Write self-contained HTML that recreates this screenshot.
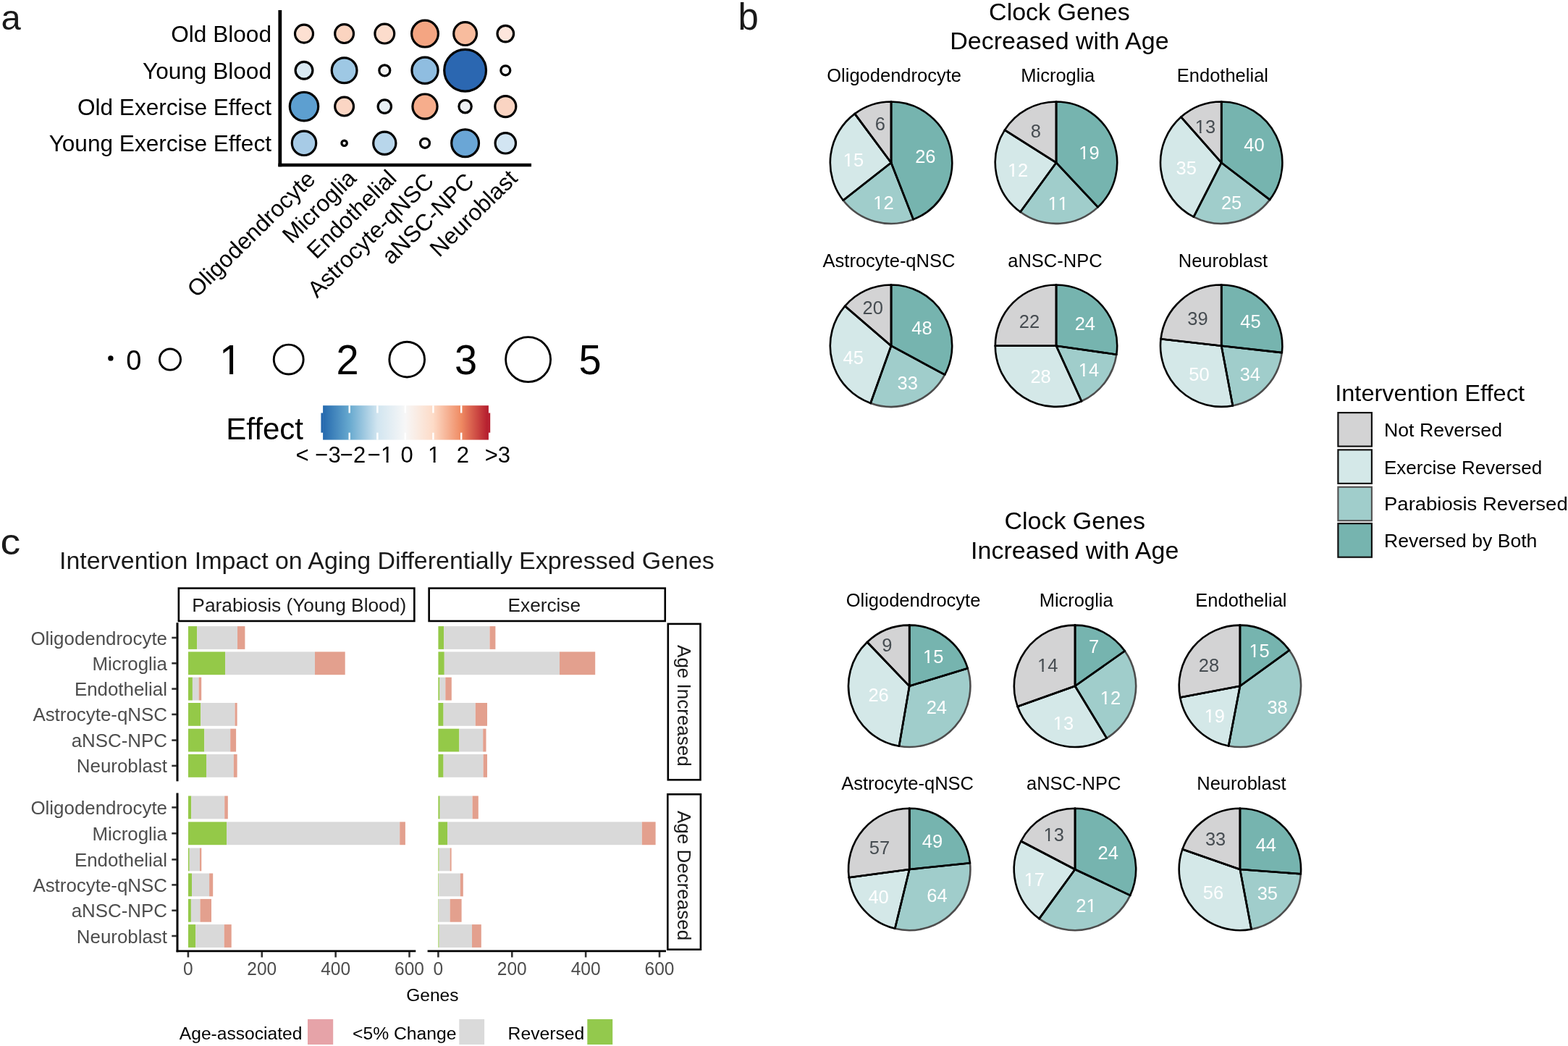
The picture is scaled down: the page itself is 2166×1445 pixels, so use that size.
<!DOCTYPE html>
<html><head><meta charset="utf-8"><title>Figure</title>
<style>
html,body{margin:0;padding:0;background:#fff;}
svg{display:block;}
text{font-family:'Liberation Sans', Arial, Helvetica, sans-serif;}
</style></head>
<body>
<svg width="2166" height="1445" viewBox="0 0 2166 1445">
<rect width="2166" height="1445" fill="#fff"/>
<text x="1.40" y="40.60" font-size="49" fill="#1a1a1a" text-anchor="start" >a</text>
<text x="375.00" y="58.40" font-size="31.6" fill="#000" text-anchor="end" >Old Blood</text>
<text x="375.00" y="109.10" font-size="31.6" fill="#000" text-anchor="end" >Young Blood</text>
<text x="375.00" y="158.90" font-size="31.6" fill="#000" text-anchor="end" >Old Exercise Effect</text>
<text x="375.00" y="209.00" font-size="31.6" fill="#000" text-anchor="end" >Young Exercise Effect</text>
<circle cx="420" cy="46.6" r="12.50" fill="#fde0d2" stroke="#000" stroke-width="3.2"/>
<circle cx="475.6" cy="46.6" r="12.90" fill="#fbd4c0" stroke="#000" stroke-width="3.2"/>
<circle cx="531.3" cy="46.6" r="13.40" fill="#fcdccc" stroke="#000" stroke-width="3.2"/>
<circle cx="587" cy="46.6" r="18.40" fill="#f4a582" stroke="#000" stroke-width="3.2"/>
<circle cx="642.6" cy="46.6" r="15.90" fill="#f8bc9e" stroke="#000" stroke-width="3.2"/>
<circle cx="698.3" cy="46.6" r="11.30" fill="#fde6dc" stroke="#000" stroke-width="3.2"/>
<circle cx="420" cy="97.3" r="11.90" fill="#d9e9f3" stroke="#000" stroke-width="3.2"/>
<circle cx="475.6" cy="97.3" r="17.40" fill="#9ec8e4" stroke="#000" stroke-width="3.2"/>
<circle cx="531.3" cy="97.3" r="7.50" fill="#f3f3f3" stroke="#000" stroke-width="3.2"/>
<circle cx="587" cy="97.3" r="18.10" fill="#8fbde0" stroke="#000" stroke-width="3.2"/>
<circle cx="642.6" cy="97.3" r="28.90" fill="#2b67b1" stroke="#000" stroke-width="3.2"/>
<circle cx="698.3" cy="97.3" r="6.50" fill="#f6f6f6" stroke="#000" stroke-width="3.2"/>
<circle cx="420" cy="147.1" r="19.70" fill="#5d9fd0" stroke="#000" stroke-width="3.2"/>
<circle cx="475.6" cy="147.1" r="12.90" fill="#fbd6c4" stroke="#000" stroke-width="3.2"/>
<circle cx="531.3" cy="147.1" r="9.20" fill="#e8f0f5" stroke="#000" stroke-width="3.2"/>
<circle cx="587" cy="147.1" r="17.10" fill="#f6ad8c" stroke="#000" stroke-width="3.2"/>
<circle cx="642.6" cy="147.1" r="8.70" fill="#eef1f5" stroke="#000" stroke-width="3.2"/>
<circle cx="698.3" cy="147.1" r="14.50" fill="#fad4c2" stroke="#000" stroke-width="3.2"/>
<circle cx="420" cy="197.8" r="16.70" fill="#a7cbe6" stroke="#000" stroke-width="3.2"/>
<circle cx="475.6" cy="197.8" r="3.70" fill="#fafafa" stroke="#000" stroke-width="3.2"/>
<circle cx="531.3" cy="197.8" r="15.60" fill="#b8d6eb" stroke="#000" stroke-width="3.2"/>
<circle cx="587" cy="197.8" r="6.50" fill="#f8f8f8" stroke="#000" stroke-width="3.2"/>
<circle cx="642.6" cy="197.8" r="18.90" fill="#6aa6d6" stroke="#000" stroke-width="3.2"/>
<circle cx="698.3" cy="197.8" r="14.20" fill="#d2e5f2" stroke="#000" stroke-width="3.2"/>
<line x1="386.8" y1="14" x2="386.8" y2="230.3" stroke="#000" stroke-width="4.8"/>
<line x1="384.4" y1="228" x2="734" y2="228" stroke="#000" stroke-width="4.6"/>
<text transform="translate(422.00,236) rotate(-44.5)" x="1.5" y="20.3" font-size="31.9" fill="#000" text-anchor="end">Oligodendrocyte</text>
<text transform="translate(477.60,236) rotate(-44.5)" x="3" y="20.3" font-size="31.9" fill="#000" text-anchor="end">Microglia</text>
<text transform="translate(533.30,236) rotate(-44.5)" x="3" y="20.3" font-size="31.9" fill="#000" text-anchor="end">Endothelial</text>
<text transform="translate(589.00,236) rotate(-44.5)" x="-3" y="20.3" font-size="31.9" fill="#000" text-anchor="end">Astrocyte-qNSC</text>
<text transform="translate(644.60,236) rotate(-44.5)" x="-3" y="20.3" font-size="31.9" fill="#000" text-anchor="end">aNSC-NPC</text>
<text transform="translate(700.30,236) rotate(-44.5)" x="3" y="20.3" font-size="31.9" fill="#000" text-anchor="end">Neuroblast</text>
<circle cx="152.9" cy="494.9" r="3.7" fill="#000"/>
<text transform="translate(184.70,511.00) scale(1,1.04)" x="0" y="0" font-size="38" fill="#000" text-anchor="middle" style="font-kerning:none" >0</text>
<circle cx="235" cy="496.6" r="14.55" fill="none" stroke="#000" stroke-width="2.9"/>
<circle cx="398.7" cy="496.6" r="20.45" fill="none" stroke="#000" stroke-width="2.9"/>
<circle cx="562.2" cy="496.6" r="24.35" fill="none" stroke="#000" stroke-width="2.9"/>
<circle cx="729.6" cy="496.6" r="31.00" fill="none" stroke="#000" stroke-width="2.9"/>
<defs><clipPath id="nf1" clipPathUnits="userSpaceOnUse"><rect x="299.03" y="443.80" width="39.15" height="67.45"/><rect x="317.06" y="511.25" width="5.04" height="28.00"/></clipPath></defs>
<g clip-path="url(#nf1)"><text transform="translate(318.60,516.60) scale(1,1.04)" x="0" y="0" font-size="56" fill="#000" text-anchor="middle" style="font-kerning:none" >1</text></g>
<text transform="translate(480.00,516.60) scale(1,1.04)" x="0" y="0" font-size="56" fill="#000" text-anchor="middle" style="font-kerning:none" >2</text>
<text transform="translate(643.50,516.60) scale(1,1.04)" x="0" y="0" font-size="56" fill="#000" text-anchor="middle" style="font-kerning:none" >3</text>
<text transform="translate(815.00,516.60) scale(1,1.04)" x="0" y="0" font-size="56" fill="#000" text-anchor="middle" style="font-kerning:none" >5</text>
<text x="312.30" y="607.40" font-size="42" fill="#000" text-anchor="start" >Effect</text>
<defs><linearGradient id="rdbu" gradientUnits="userSpaceOnUse" x1="444.1" x2="675.7" y1="0" y2="0"><stop offset="0" stop-color="#2166ac"/><stop offset="0.1667" stop-color="#67a9cf"/><stop offset="0.3333" stop-color="#d1e5f0"/><stop offset="0.5" stop-color="#f7f7f7"/><stop offset="0.6667" stop-color="#fddbc7"/><stop offset="0.8333" stop-color="#ef8a62"/><stop offset="1" stop-color="#b2182b"/></linearGradient></defs>
<rect x="446.1" y="560.2" width="228.8" height="47.4" fill="url(#rdbu)"/>
<rect x="443.4" y="570.5" width="3" height="27.2" fill="#2467ad"/>
<rect x="674.6" y="570.5" width="2.6" height="27.2" fill="#b41c2c"/>
<line x1="482.7" y1="560.2" x2="482.7" y2="570.5" stroke="#fff" stroke-width="2.4"/>
<line x1="482.7" y1="597.7" x2="482.7" y2="607.6" stroke="#fff" stroke-width="2.4"/>
<line x1="521.4" y1="560.2" x2="521.4" y2="570.5" stroke="#fff" stroke-width="2.4"/>
<line x1="521.4" y1="597.7" x2="521.4" y2="607.6" stroke="#fff" stroke-width="2.4"/>
<line x1="559.8" y1="560.2" x2="559.8" y2="570.5" stroke="#fff" stroke-width="2.4"/>
<line x1="559.8" y1="597.7" x2="559.8" y2="607.6" stroke="#fff" stroke-width="2.4"/>
<line x1="598.4" y1="560.2" x2="598.4" y2="570.5" stroke="#fff" stroke-width="2.4"/>
<line x1="598.4" y1="597.7" x2="598.4" y2="607.6" stroke="#fff" stroke-width="2.4"/>
<line x1="637.2" y1="560.2" x2="637.2" y2="570.5" stroke="#fff" stroke-width="2.4"/>
<line x1="637.2" y1="597.7" x2="637.2" y2="607.6" stroke="#fff" stroke-width="2.4"/>
<text transform="translate(439.60,639.20) scale(1,1.04)" x="0" y="0" font-size="31" fill="#000" text-anchor="middle" style="font-kerning:none" >&lt; −3</text>
<text transform="translate(487.50,639.20) scale(1,1.04)" x="0" y="0" font-size="31" fill="#000" text-anchor="middle" style="font-kerning:none" >−2</text>
<defs><clipPath id="nf2" clipPathUnits="userSpaceOnUse"><rect x="503.83" y="598.90" width="43.35" height="36.89"/><rect x="507.83" y="635.79" width="18.10" height="15.50"/><rect x="533.68" y="635.79" width="2.84" height="15.50"/></clipPath></defs>
<g clip-path="url(#nf2)"><text transform="translate(525.50,639.20) scale(1,1.04)" x="0" y="0" font-size="31" fill="#000" text-anchor="middle" style="font-kerning:none" >−1</text></g>
<text transform="translate(562.20,639.20) scale(1,1.04)" x="0" y="0" font-size="31" fill="#000" text-anchor="middle" style="font-kerning:none" >0</text>
<defs><clipPath id="nf3" clipPathUnits="userSpaceOnUse"><rect x="586.98" y="598.90" width="25.24" height="36.89"/><rect x="598.73" y="635.79" width="2.84" height="15.50"/></clipPath></defs>
<g clip-path="url(#nf3)"><text transform="translate(599.60,639.20) scale(1,1.04)" x="0" y="0" font-size="31" fill="#000" text-anchor="middle" style="font-kerning:none" >1</text></g>
<text transform="translate(639.40,639.20) scale(1,1.04)" x="0" y="0" font-size="31" fill="#000" text-anchor="middle" style="font-kerning:none" >2</text>
<text transform="translate(687.30,639.20) scale(1,1.04)" x="0" y="0" font-size="31" fill="#000" text-anchor="middle" style="font-kerning:none" >&gt;3</text>
<text x="1019.60" y="40.80" font-size="51" fill="#1a1a1a" text-anchor="start" >b</text>
<text x="1463.40" y="27.70" font-size="34" fill="#000" text-anchor="middle" >Clock Genes</text>
<text x="1463.40" y="67.80" font-size="34" fill="#000" text-anchor="middle" >Decreased with Age</text>
<text x="1484.70" y="730.80" font-size="34" fill="#000" text-anchor="middle" >Clock Genes</text>
<text x="1484.70" y="771.60" font-size="34" fill="#000" text-anchor="middle" >Increased with Age</text>
<text x="1235.10" y="113.10" font-size="25.5" fill="#000" text-anchor="middle" >Oligodendrocyte</text>
<path d="M1231.00,224.70 L1261.66,303.12 A84.2,84.2 0 0 1 1164.77,276.70 Z" fill="#a0cdcb" stroke="#4d4d4d" stroke-width="2.6" stroke-linejoin="round"/>
<path d="M1231.00,224.70 L1231.00,140.50 A84.2,84.2 0 0 1 1261.66,303.12 Z" fill="#76b4af" stroke="#000" stroke-width="2.6" stroke-linejoin="round"/>
<path d="M1231.00,224.70 L1164.77,276.70 A84.2,84.2 0 0 1 1180.79,157.11 Z" fill="#d4e8e8" stroke="#000" stroke-width="2.6" stroke-linejoin="round"/>
<path d="M1231.00,224.70 L1180.79,157.11 A84.2,84.2 0 0 1 1231.00,140.50 Z" fill="#d3d3d4" stroke="#000" stroke-width="2.6" stroke-linejoin="round"/>
<line x1="1231.00" y1="224.70" x2="1231.00" y2="140.50" stroke="#000" stroke-width="2.6" stroke-linecap="round"/>
<line x1="1231.00" y1="224.70" x2="1261.66" y2="303.12" stroke="#000" stroke-width="2.6" stroke-linecap="round"/>
<line x1="1231.00" y1="224.70" x2="1164.77" y2="276.70" stroke="#000" stroke-width="2.6" stroke-linecap="round"/>
<line x1="1231.00" y1="224.70" x2="1180.79" y2="157.11" stroke="#000" stroke-width="2.6" stroke-linecap="round"/>
<text transform="translate(1278.30,225.22) scale(1,1.04)" x="0" y="0" font-size="25.5" fill="#ffffff" text-anchor="middle" style="font-kerning:none" >26</text>
<defs><clipPath id="nf4" clipPathUnits="userSpaceOnUse"><rect x="1202.32" y="255.87" width="36.37" height="30.17"/><rect x="1212.68" y="286.04" width="2.35" height="12.75"/><rect x="1220.50" y="286.04" width="14.18" height="12.75"/></clipPath></defs>
<g clip-path="url(#nf4)"><text transform="translate(1220.50,289.02) scale(1,1.04)" x="0" y="0" font-size="25.5" fill="#ffffff" text-anchor="middle" style="font-kerning:none" >12</text></g>
<defs><clipPath id="nf5" clipPathUnits="userSpaceOnUse"><rect x="1160.82" y="196.67" width="36.37" height="30.17"/><rect x="1171.18" y="226.84" width="2.35" height="12.75"/><rect x="1179.00" y="226.84" width="14.18" height="12.75"/></clipPath></defs>
<g clip-path="url(#nf5)"><text transform="translate(1179.00,229.82) scale(1,1.04)" x="0" y="0" font-size="25.5" fill="#ffffff" text-anchor="middle" style="font-kerning:none" >15</text></g>
<text transform="translate(1215.90,179.92) scale(1,1.04)" x="0" y="0" font-size="25.5" fill="#464c51" text-anchor="middle" style="font-kerning:none" >6</text>
<text x="1461.30" y="113.10" font-size="25.5" fill="#000" text-anchor="middle" >Microglia</text>
<path d="M1459.00,224.70 L1516.64,286.08 A84.2,84.2 0 0 1 1409.51,292.82 Z" fill="#a0cdcb" stroke="#4d4d4d" stroke-width="2.6" stroke-linejoin="round"/>
<path d="M1459.00,224.70 L1459.00,140.50 A84.2,84.2 0 0 1 1516.64,286.08 Z" fill="#76b4af" stroke="#000" stroke-width="2.6" stroke-linejoin="round"/>
<path d="M1459.00,224.70 L1409.51,292.82 A84.2,84.2 0 0 1 1387.91,179.58 Z" fill="#d4e8e8" stroke="#000" stroke-width="2.6" stroke-linejoin="round"/>
<path d="M1459.00,224.70 L1387.91,179.58 A84.2,84.2 0 0 1 1459.00,140.50 Z" fill="#d3d3d4" stroke="#000" stroke-width="2.6" stroke-linejoin="round"/>
<line x1="1459.00" y1="224.70" x2="1459.00" y2="140.50" stroke="#000" stroke-width="2.6" stroke-linecap="round"/>
<line x1="1459.00" y1="224.70" x2="1516.64" y2="286.08" stroke="#000" stroke-width="2.6" stroke-linecap="round"/>
<line x1="1459.00" y1="224.70" x2="1409.51" y2="292.82" stroke="#000" stroke-width="2.6" stroke-linecap="round"/>
<line x1="1459.00" y1="224.70" x2="1387.91" y2="179.58" stroke="#000" stroke-width="2.6" stroke-linecap="round"/>
<defs><clipPath id="nf6" clipPathUnits="userSpaceOnUse"><rect x="1486.22" y="186.87" width="36.37" height="30.17"/><rect x="1496.58" y="217.04" width="2.35" height="12.75"/><rect x="1504.40" y="217.04" width="14.18" height="12.75"/></clipPath></defs>
<g clip-path="url(#nf6)"><text transform="translate(1504.40,220.02) scale(1,1.04)" x="0" y="0" font-size="25.5" fill="#ffffff" text-anchor="middle" style="font-kerning:none" >19</text></g>
<defs><clipPath id="nf7" clipPathUnits="userSpaceOnUse"><rect x="1443.42" y="257.17" width="36.37" height="30.17"/><rect x="1453.78" y="287.34" width="2.35" height="12.75"/><rect x="1467.96" y="287.34" width="2.35" height="12.75"/></clipPath></defs>
<g clip-path="url(#nf7)"><text transform="translate(1461.60,290.32) scale(1,1.04)" x="0" y="0" font-size="25.5" fill="#ffffff" text-anchor="middle" style="font-kerning:none" >11</text></g>
<defs><clipPath id="nf8" clipPathUnits="userSpaceOnUse"><rect x="1387.92" y="211.17" width="36.37" height="30.17"/><rect x="1398.28" y="241.34" width="2.35" height="12.75"/><rect x="1406.10" y="241.34" width="14.18" height="12.75"/></clipPath></defs>
<g clip-path="url(#nf8)"><text transform="translate(1406.10,244.32) scale(1,1.04)" x="0" y="0" font-size="25.5" fill="#ffffff" text-anchor="middle" style="font-kerning:none" >12</text></g>
<text transform="translate(1430.80,189.72) scale(1,1.04)" x="0" y="0" font-size="25.5" fill="#464c51" text-anchor="middle" style="font-kerning:none" >8</text>
<text x="1688.90" y="113.10" font-size="25.5" fill="#000" text-anchor="middle" >Endothelial</text>
<path d="M1687.20,224.70 L1754.06,275.88 A84.2,84.2 0 0 1 1648.87,299.67 Z" fill="#a0cdcb" stroke="#4d4d4d" stroke-width="2.6" stroke-linejoin="round"/>
<path d="M1687.20,224.70 L1687.20,140.50 A84.2,84.2 0 0 1 1754.06,275.88 Z" fill="#76b4af" stroke="#000" stroke-width="2.6" stroke-linejoin="round"/>
<path d="M1687.20,224.70 L1648.87,299.67 A84.2,84.2 0 0 1 1631.50,161.56 Z" fill="#d4e8e8" stroke="#000" stroke-width="2.6" stroke-linejoin="round"/>
<path d="M1687.20,224.70 L1631.50,161.56 A84.2,84.2 0 0 1 1687.20,140.50 Z" fill="#d3d3d4" stroke="#000" stroke-width="2.6" stroke-linejoin="round"/>
<line x1="1687.20" y1="224.70" x2="1687.20" y2="140.50" stroke="#000" stroke-width="2.6" stroke-linecap="round"/>
<line x1="1687.20" y1="224.70" x2="1754.06" y2="275.88" stroke="#000" stroke-width="2.6" stroke-linecap="round"/>
<line x1="1687.20" y1="224.70" x2="1648.87" y2="299.67" stroke="#000" stroke-width="2.6" stroke-linecap="round"/>
<line x1="1687.20" y1="224.70" x2="1631.50" y2="161.56" stroke="#000" stroke-width="2.6" stroke-linecap="round"/>
<text transform="translate(1732.40,208.82) scale(1,1.04)" x="0" y="0" font-size="25.5" fill="#ffffff" text-anchor="middle" style="font-kerning:none" >40</text>
<text transform="translate(1701.10,289.02) scale(1,1.04)" x="0" y="0" font-size="25.5" fill="#ffffff" text-anchor="middle" style="font-kerning:none" >25</text>
<text transform="translate(1638.70,241.02) scale(1,1.04)" x="0" y="0" font-size="25.5" fill="#ffffff" text-anchor="middle" style="font-kerning:none" >35</text>
<defs><clipPath id="nf9" clipPathUnits="userSpaceOnUse"><rect x="1646.82" y="150.67" width="36.37" height="30.17"/><rect x="1657.18" y="180.84" width="2.35" height="12.75"/><rect x="1665.00" y="180.84" width="14.18" height="12.75"/></clipPath></defs>
<g clip-path="url(#nf9)"><text transform="translate(1665.00,183.82) scale(1,1.04)" x="0" y="0" font-size="25.5" fill="#464c51" text-anchor="middle" style="font-kerning:none" >13</text></g>
<text x="1228.00" y="369.00" font-size="25.5" fill="#000" text-anchor="middle" >Astrocyte-qNSC</text>
<path d="M1231.00,477.70 L1305.10,517.69 A84.2,84.2 0 0 1 1202.58,556.96 Z" fill="#a0cdcb" stroke="#4d4d4d" stroke-width="2.6" stroke-linejoin="round"/>
<path d="M1231.00,477.70 L1231.00,393.50 A84.2,84.2 0 0 1 1305.10,517.69 Z" fill="#76b4af" stroke="#000" stroke-width="2.6" stroke-linejoin="round"/>
<path d="M1231.00,477.70 L1202.58,556.96 A84.2,84.2 0 0 1 1167.15,422.81 Z" fill="#d4e8e8" stroke="#000" stroke-width="2.6" stroke-linejoin="round"/>
<path d="M1231.00,477.70 L1167.15,422.81 A84.2,84.2 0 0 1 1231.00,393.50 Z" fill="#d3d3d4" stroke="#000" stroke-width="2.6" stroke-linejoin="round"/>
<line x1="1231.00" y1="477.70" x2="1231.00" y2="393.50" stroke="#000" stroke-width="2.6" stroke-linecap="round"/>
<line x1="1231.00" y1="477.70" x2="1305.10" y2="517.69" stroke="#000" stroke-width="2.6" stroke-linecap="round"/>
<line x1="1231.00" y1="477.70" x2="1202.58" y2="556.96" stroke="#000" stroke-width="2.6" stroke-linecap="round"/>
<line x1="1231.00" y1="477.70" x2="1167.15" y2="422.81" stroke="#000" stroke-width="2.6" stroke-linecap="round"/>
<text transform="translate(1273.40,461.82) scale(1,1.04)" x="0" y="0" font-size="25.5" fill="#ffffff" text-anchor="middle" style="font-kerning:none" >48</text>
<text transform="translate(1253.70,538.12) scale(1,1.04)" x="0" y="0" font-size="25.5" fill="#ffffff" text-anchor="middle" style="font-kerning:none" >33</text>
<text transform="translate(1178.70,503.22) scale(1,1.04)" x="0" y="0" font-size="25.5" fill="#ffffff" text-anchor="middle" style="font-kerning:none" >45</text>
<text transform="translate(1205.70,434.22) scale(1,1.04)" x="0" y="0" font-size="25.5" fill="#464c51" text-anchor="middle" style="font-kerning:none" >20</text>
<text x="1457.40" y="369.00" font-size="25.5" fill="#000" text-anchor="middle" >aNSC-NPC</text>
<path d="M1459.00,477.70 L1542.34,489.68 A84.2,84.2 0 0 1 1493.98,554.29 Z" fill="#a0cdcb" stroke="#4d4d4d" stroke-width="2.6" stroke-linejoin="round"/>
<path d="M1459.00,477.70 L1459.00,393.50 A84.2,84.2 0 0 1 1542.34,489.68 Z" fill="#76b4af" stroke="#000" stroke-width="2.6" stroke-linejoin="round"/>
<path d="M1459.00,477.70 L1493.98,554.29 A84.2,84.2 0 0 1 1374.80,477.70 Z" fill="#d4e8e8" stroke="#000" stroke-width="2.6" stroke-linejoin="round"/>
<path d="M1459.00,477.70 L1374.80,477.70 A84.2,84.2 0 0 1 1459.00,393.50 Z" fill="#d3d3d4" stroke="#000" stroke-width="2.6" stroke-linejoin="round"/>
<line x1="1459.00" y1="477.70" x2="1459.00" y2="393.50" stroke="#000" stroke-width="2.6" stroke-linecap="round"/>
<line x1="1459.00" y1="477.70" x2="1542.34" y2="489.68" stroke="#000" stroke-width="2.6" stroke-linecap="round"/>
<line x1="1459.00" y1="477.70" x2="1493.98" y2="554.29" stroke="#000" stroke-width="2.6" stroke-linecap="round"/>
<line x1="1459.00" y1="477.70" x2="1374.80" y2="477.70" stroke="#000" stroke-width="2.6" stroke-linecap="round"/>
<text transform="translate(1498.80,455.92) scale(1,1.04)" x="0" y="0" font-size="25.5" fill="#ffffff" text-anchor="middle" style="font-kerning:none" >24</text>
<defs><clipPath id="nf10" clipPathUnits="userSpaceOnUse"><rect x="1485.82" y="486.47" width="36.37" height="30.17"/><rect x="1496.18" y="516.64" width="2.35" height="12.75"/><rect x="1504.00" y="516.64" width="14.18" height="12.75"/></clipPath></defs>
<g clip-path="url(#nf10)"><text transform="translate(1504.00,519.62) scale(1,1.04)" x="0" y="0" font-size="25.5" fill="#ffffff" text-anchor="middle" style="font-kerning:none" >14</text></g>
<text transform="translate(1437.60,528.92) scale(1,1.04)" x="0" y="0" font-size="25.5" fill="#ffffff" text-anchor="middle" style="font-kerning:none" >28</text>
<text transform="translate(1421.90,453.22) scale(1,1.04)" x="0" y="0" font-size="25.5" fill="#464c51" text-anchor="middle" style="font-kerning:none" >22</text>
<text x="1689.40" y="369.00" font-size="25.5" fill="#000" text-anchor="middle" >Neuroblast</text>
<path d="M1687.20,477.70 L1770.87,487.13 A84.2,84.2 0 0 1 1702.85,560.43 Z" fill="#a0cdcb" stroke="#4d4d4d" stroke-width="2.6" stroke-linejoin="round"/>
<path d="M1687.20,477.70 L1687.20,393.50 A84.2,84.2 0 0 1 1770.87,487.13 Z" fill="#76b4af" stroke="#000" stroke-width="2.6" stroke-linejoin="round"/>
<path d="M1687.20,477.70 L1702.85,560.43 A84.2,84.2 0 0 1 1603.53,468.27 Z" fill="#d4e8e8" stroke="#000" stroke-width="2.6" stroke-linejoin="round"/>
<path d="M1687.20,477.70 L1603.53,468.27 A84.2,84.2 0 0 1 1687.20,393.50 Z" fill="#d3d3d4" stroke="#000" stroke-width="2.6" stroke-linejoin="round"/>
<line x1="1687.20" y1="477.70" x2="1687.20" y2="393.50" stroke="#000" stroke-width="2.6" stroke-linecap="round"/>
<line x1="1687.20" y1="477.70" x2="1770.87" y2="487.13" stroke="#000" stroke-width="2.6" stroke-linecap="round"/>
<line x1="1687.20" y1="477.70" x2="1702.85" y2="560.43" stroke="#000" stroke-width="2.6" stroke-linecap="round"/>
<line x1="1687.20" y1="477.70" x2="1603.53" y2="468.27" stroke="#000" stroke-width="2.6" stroke-linecap="round"/>
<text transform="translate(1727.40,452.62) scale(1,1.04)" x="0" y="0" font-size="25.5" fill="#ffffff" text-anchor="middle" style="font-kerning:none" >45</text>
<text transform="translate(1726.80,526.22) scale(1,1.04)" x="0" y="0" font-size="25.5" fill="#ffffff" text-anchor="middle" style="font-kerning:none" >34</text>
<text transform="translate(1656.40,526.22) scale(1,1.04)" x="0" y="0" font-size="25.5" fill="#ffffff" text-anchor="middle" style="font-kerning:none" >50</text>
<text transform="translate(1654.50,449.32) scale(1,1.04)" x="0" y="0" font-size="25.5" fill="#464c51" text-anchor="middle" style="font-kerning:none" >39</text>
<text x="1261.50" y="837.70" font-size="25.5" fill="#000" text-anchor="middle" >Oligodendrocyte</text>
<path d="M1256.20,947.80 L1336.71,923.14 A84.2,84.2 0 0 1 1241.97,1030.79 Z" fill="#a0cdcb" stroke="#4d4d4d" stroke-width="2.6" stroke-linejoin="round"/>
<path d="M1256.20,947.80 L1256.20,863.60 A84.2,84.2 0 0 1 1336.71,923.14 Z" fill="#76b4af" stroke="#000" stroke-width="2.6" stroke-linejoin="round"/>
<path d="M1256.20,947.80 L1241.97,1030.79 A84.2,84.2 0 0 1 1197.94,887.01 Z" fill="#d4e8e8" stroke="#000" stroke-width="2.6" stroke-linejoin="round"/>
<path d="M1256.20,947.80 L1197.94,887.01 A84.2,84.2 0 0 1 1256.20,863.60 Z" fill="#d3d3d4" stroke="#000" stroke-width="2.6" stroke-linejoin="round"/>
<line x1="1256.20" y1="947.80" x2="1256.20" y2="863.60" stroke="#000" stroke-width="2.6" stroke-linecap="round"/>
<line x1="1256.20" y1="947.80" x2="1336.71" y2="923.14" stroke="#000" stroke-width="2.6" stroke-linecap="round"/>
<line x1="1256.20" y1="947.80" x2="1241.97" y2="1030.79" stroke="#000" stroke-width="2.6" stroke-linecap="round"/>
<line x1="1256.20" y1="947.80" x2="1197.94" y2="887.01" stroke="#000" stroke-width="2.6" stroke-linecap="round"/>
<defs><clipPath id="nf11" clipPathUnits="userSpaceOnUse"><rect x="1271.02" y="882.87" width="36.37" height="30.17"/><rect x="1281.38" y="913.04" width="2.35" height="12.75"/><rect x="1289.20" y="913.04" width="14.18" height="12.75"/></clipPath></defs>
<g clip-path="url(#nf11)"><text transform="translate(1289.20,916.02) scale(1,1.04)" x="0" y="0" font-size="25.5" fill="#ffffff" text-anchor="middle" style="font-kerning:none" >15</text></g>
<text transform="translate(1293.80,986.42) scale(1,1.04)" x="0" y="0" font-size="25.5" fill="#ffffff" text-anchor="middle" style="font-kerning:none" >24</text>
<text transform="translate(1213.60,969.32) scale(1,1.04)" x="0" y="0" font-size="25.5" fill="#ffffff" text-anchor="middle" style="font-kerning:none" >26</text>
<text transform="translate(1225.40,900.22) scale(1,1.04)" x="0" y="0" font-size="25.5" fill="#464c51" text-anchor="middle" style="font-kerning:none" >9</text>
<text x="1486.70" y="837.70" font-size="25.5" fill="#000" text-anchor="middle" >Microglia</text>
<path d="M1485.00,947.80 L1553.79,899.24 A84.2,84.2 0 0 1 1528.75,1019.74 Z" fill="#a0cdcb" stroke="#4d4d4d" stroke-width="2.6" stroke-linejoin="round"/>
<path d="M1485.00,947.80 L1485.00,863.60 A84.2,84.2 0 0 1 1553.79,899.24 Z" fill="#76b4af" stroke="#000" stroke-width="2.6" stroke-linejoin="round"/>
<path d="M1485.00,947.80 L1528.75,1019.74 A84.2,84.2 0 0 1 1405.66,976.00 Z" fill="#d4e8e8" stroke="#000" stroke-width="2.6" stroke-linejoin="round"/>
<path d="M1485.00,947.80 L1405.66,976.00 A84.2,84.2 0 0 1 1485.00,863.60 Z" fill="#d3d3d4" stroke="#000" stroke-width="2.6" stroke-linejoin="round"/>
<line x1="1485.00" y1="947.80" x2="1485.00" y2="863.60" stroke="#000" stroke-width="2.6" stroke-linecap="round"/>
<line x1="1485.00" y1="947.80" x2="1553.79" y2="899.24" stroke="#000" stroke-width="2.6" stroke-linecap="round"/>
<line x1="1485.00" y1="947.80" x2="1528.75" y2="1019.74" stroke="#000" stroke-width="2.6" stroke-linecap="round"/>
<line x1="1485.00" y1="947.80" x2="1405.66" y2="976.00" stroke="#000" stroke-width="2.6" stroke-linecap="round"/>
<text transform="translate(1511.00,902.22) scale(1,1.04)" x="0" y="0" font-size="25.5" fill="#ffffff" text-anchor="middle" style="font-kerning:none" >7</text>
<defs><clipPath id="nf12" clipPathUnits="userSpaceOnUse"><rect x="1515.82" y="939.47" width="36.37" height="30.17"/><rect x="1526.18" y="969.64" width="2.35" height="12.75"/><rect x="1534.00" y="969.64" width="14.18" height="12.75"/></clipPath></defs>
<g clip-path="url(#nf12)"><text transform="translate(1534.00,972.62) scale(1,1.04)" x="0" y="0" font-size="25.5" fill="#ffffff" text-anchor="middle" style="font-kerning:none" >12</text></g>
<defs><clipPath id="nf13" clipPathUnits="userSpaceOnUse"><rect x="1450.72" y="974.97" width="36.37" height="30.17"/><rect x="1461.08" y="1005.14" width="2.35" height="12.75"/><rect x="1468.90" y="1005.14" width="14.18" height="12.75"/></clipPath></defs>
<g clip-path="url(#nf13)"><text transform="translate(1468.90,1008.12) scale(1,1.04)" x="0" y="0" font-size="25.5" fill="#ffffff" text-anchor="middle" style="font-kerning:none" >13</text></g>
<defs><clipPath id="nf14" clipPathUnits="userSpaceOnUse"><rect x="1429.02" y="894.67" width="36.37" height="30.17"/><rect x="1439.38" y="924.84" width="2.35" height="12.75"/><rect x="1447.20" y="924.84" width="14.18" height="12.75"/></clipPath></defs>
<g clip-path="url(#nf14)"><text transform="translate(1447.20,927.82) scale(1,1.04)" x="0" y="0" font-size="25.5" fill="#464c51" text-anchor="middle" style="font-kerning:none" >14</text></g>
<text x="1714.40" y="837.70" font-size="25.5" fill="#000" text-anchor="middle" >Endothelial</text>
<path d="M1712.90,947.80 L1781.02,898.31 A84.2,84.2 0 0 1 1697.12,1030.51 Z" fill="#a0cdcb" stroke="#4d4d4d" stroke-width="2.6" stroke-linejoin="round"/>
<path d="M1712.90,947.80 L1712.90,863.60 A84.2,84.2 0 0 1 1781.02,898.31 Z" fill="#76b4af" stroke="#000" stroke-width="2.6" stroke-linejoin="round"/>
<path d="M1712.90,947.80 L1697.12,1030.51 A84.2,84.2 0 0 1 1630.19,963.58 Z" fill="#d4e8e8" stroke="#000" stroke-width="2.6" stroke-linejoin="round"/>
<path d="M1712.90,947.80 L1630.19,963.58 A84.2,84.2 0 0 1 1712.90,863.60 Z" fill="#d3d3d4" stroke="#000" stroke-width="2.6" stroke-linejoin="round"/>
<line x1="1712.90" y1="947.80" x2="1712.90" y2="863.60" stroke="#000" stroke-width="2.6" stroke-linecap="round"/>
<line x1="1712.90" y1="947.80" x2="1781.02" y2="898.31" stroke="#000" stroke-width="2.6" stroke-linecap="round"/>
<line x1="1712.90" y1="947.80" x2="1697.12" y2="1030.51" stroke="#000" stroke-width="2.6" stroke-linecap="round"/>
<line x1="1712.90" y1="947.80" x2="1630.19" y2="963.58" stroke="#000" stroke-width="2.6" stroke-linecap="round"/>
<defs><clipPath id="nf15" clipPathUnits="userSpaceOnUse"><rect x="1721.42" y="874.97" width="36.37" height="30.17"/><rect x="1731.78" y="905.14" width="2.35" height="12.75"/><rect x="1739.60" y="905.14" width="14.18" height="12.75"/></clipPath></defs>
<g clip-path="url(#nf15)"><text transform="translate(1739.60,908.12) scale(1,1.04)" x="0" y="0" font-size="25.5" fill="#ffffff" text-anchor="middle" style="font-kerning:none" >15</text></g>
<text transform="translate(1764.60,986.42) scale(1,1.04)" x="0" y="0" font-size="25.5" fill="#ffffff" text-anchor="middle" style="font-kerning:none" >38</text>
<defs><clipPath id="nf16" clipPathUnits="userSpaceOnUse"><rect x="1659.62" y="965.07" width="36.37" height="30.17"/><rect x="1669.98" y="995.24" width="2.35" height="12.75"/><rect x="1677.80" y="995.24" width="14.18" height="12.75"/></clipPath></defs>
<g clip-path="url(#nf16)"><text transform="translate(1677.80,998.22) scale(1,1.04)" x="0" y="0" font-size="25.5" fill="#ffffff" text-anchor="middle" style="font-kerning:none" >19</text></g>
<text transform="translate(1669.90,927.82) scale(1,1.04)" x="0" y="0" font-size="25.5" fill="#464c51" text-anchor="middle" style="font-kerning:none" >28</text>
<text x="1253.60" y="1090.80" font-size="25.5" fill="#000" text-anchor="middle" >Astrocyte-qNSC</text>
<path d="M1256.20,1201.00 L1339.94,1192.20 A84.2,84.2 0 0 1 1236.24,1282.80 Z" fill="#a0cdcb" stroke="#4d4d4d" stroke-width="2.6" stroke-linejoin="round"/>
<path d="M1256.20,1201.00 L1256.20,1116.80 A84.2,84.2 0 0 1 1339.94,1192.20 Z" fill="#76b4af" stroke="#000" stroke-width="2.6" stroke-linejoin="round"/>
<path d="M1256.20,1201.00 L1236.24,1282.80 A84.2,84.2 0 0 1 1172.76,1212.30 Z" fill="#d4e8e8" stroke="#000" stroke-width="2.6" stroke-linejoin="round"/>
<path d="M1256.20,1201.00 L1172.76,1212.30 A84.2,84.2 0 0 1 1256.20,1116.80 Z" fill="#d3d3d4" stroke="#000" stroke-width="2.6" stroke-linejoin="round"/>
<line x1="1256.20" y1="1201.00" x2="1256.20" y2="1116.80" stroke="#000" stroke-width="2.6" stroke-linecap="round"/>
<line x1="1256.20" y1="1201.00" x2="1339.94" y2="1192.20" stroke="#000" stroke-width="2.6" stroke-linecap="round"/>
<line x1="1256.20" y1="1201.00" x2="1236.24" y2="1282.80" stroke="#000" stroke-width="2.6" stroke-linecap="round"/>
<line x1="1256.20" y1="1201.00" x2="1172.76" y2="1212.30" stroke="#000" stroke-width="2.6" stroke-linecap="round"/>
<text transform="translate(1287.90,1171.02) scale(1,1.04)" x="0" y="0" font-size="25.5" fill="#ffffff" text-anchor="middle" style="font-kerning:none" >49</text>
<text transform="translate(1294.50,1245.92) scale(1,1.04)" x="0" y="0" font-size="25.5" fill="#ffffff" text-anchor="middle" style="font-kerning:none" >64</text>
<text transform="translate(1213.60,1247.92) scale(1,1.04)" x="0" y="0" font-size="25.5" fill="#ffffff" text-anchor="middle" style="font-kerning:none" >40</text>
<text transform="translate(1214.90,1180.22) scale(1,1.04)" x="0" y="0" font-size="25.5" fill="#464c51" text-anchor="middle" style="font-kerning:none" >57</text>
<text x="1483.20" y="1090.80" font-size="25.5" fill="#000" text-anchor="middle" >aNSC-NPC</text>
<path d="M1485.00,1201.00 L1561.19,1236.85 A84.2,84.2 0 0 1 1435.51,1269.12 Z" fill="#a0cdcb" stroke="#4d4d4d" stroke-width="2.6" stroke-linejoin="round"/>
<path d="M1485.00,1201.00 L1485.00,1116.80 A84.2,84.2 0 0 1 1561.19,1236.85 Z" fill="#76b4af" stroke="#000" stroke-width="2.6" stroke-linejoin="round"/>
<path d="M1485.00,1201.00 L1435.51,1269.12 A84.2,84.2 0 0 1 1410.38,1161.99 Z" fill="#d4e8e8" stroke="#000" stroke-width="2.6" stroke-linejoin="round"/>
<path d="M1485.00,1201.00 L1410.38,1161.99 A84.2,84.2 0 0 1 1485.00,1116.80 Z" fill="#d3d3d4" stroke="#000" stroke-width="2.6" stroke-linejoin="round"/>
<line x1="1485.00" y1="1201.00" x2="1485.00" y2="1116.80" stroke="#000" stroke-width="2.6" stroke-linecap="round"/>
<line x1="1485.00" y1="1201.00" x2="1561.19" y2="1236.85" stroke="#000" stroke-width="2.6" stroke-linecap="round"/>
<line x1="1485.00" y1="1201.00" x2="1435.51" y2="1269.12" stroke="#000" stroke-width="2.6" stroke-linecap="round"/>
<line x1="1485.00" y1="1201.00" x2="1410.38" y2="1161.99" stroke="#000" stroke-width="2.6" stroke-linecap="round"/>
<text transform="translate(1530.70,1186.82) scale(1,1.04)" x="0" y="0" font-size="25.5" fill="#ffffff" text-anchor="middle" style="font-kerning:none" >24</text>
<defs><clipPath id="nf17" clipPathUnits="userSpaceOnUse"><rect x="1482.32" y="1227.27" width="36.37" height="30.17"/><rect x="1486.32" y="1257.44" width="14.18" height="12.75"/><rect x="1506.86" y="1257.44" width="2.35" height="12.75"/></clipPath></defs>
<g clip-path="url(#nf17)"><text transform="translate(1500.50,1260.42) scale(1,1.04)" x="0" y="0" font-size="25.5" fill="#ffffff" text-anchor="middle" style="font-kerning:none" >21</text></g>
<defs><clipPath id="nf18" clipPathUnits="userSpaceOnUse"><rect x="1410.62" y="1191.07" width="36.37" height="30.17"/><rect x="1420.98" y="1221.24" width="2.35" height="12.75"/><rect x="1428.80" y="1221.24" width="14.18" height="12.75"/></clipPath></defs>
<g clip-path="url(#nf18)"><text transform="translate(1428.80,1224.22) scale(1,1.04)" x="0" y="0" font-size="25.5" fill="#ffffff" text-anchor="middle" style="font-kerning:none" >17</text></g>
<defs><clipPath id="nf19" clipPathUnits="userSpaceOnUse"><rect x="1437.52" y="1128.67" width="36.37" height="30.17"/><rect x="1447.88" y="1158.84" width="2.35" height="12.75"/><rect x="1455.70" y="1158.84" width="14.18" height="12.75"/></clipPath></defs>
<g clip-path="url(#nf19)"><text transform="translate(1455.70,1161.82) scale(1,1.04)" x="0" y="0" font-size="25.5" fill="#464c51" text-anchor="middle" style="font-kerning:none" >13</text></g>
<text x="1714.90" y="1090.80" font-size="25.5" fill="#000" text-anchor="middle" >Neuroblast</text>
<path d="M1712.90,1201.00 L1796.86,1207.29 A84.2,84.2 0 0 1 1728.55,1283.73 Z" fill="#a0cdcb" stroke="#4d4d4d" stroke-width="2.6" stroke-linejoin="round"/>
<path d="M1712.90,1201.00 L1712.90,1116.80 A84.2,84.2 0 0 1 1796.86,1207.29 Z" fill="#76b4af" stroke="#000" stroke-width="2.6" stroke-linejoin="round"/>
<path d="M1712.90,1201.00 L1728.55,1283.73 A84.2,84.2 0 0 1 1633.43,1173.19 Z" fill="#d4e8e8" stroke="#000" stroke-width="2.6" stroke-linejoin="round"/>
<path d="M1712.90,1201.00 L1633.43,1173.19 A84.2,84.2 0 0 1 1712.90,1116.80 Z" fill="#d3d3d4" stroke="#000" stroke-width="2.6" stroke-linejoin="round"/>
<line x1="1712.90" y1="1201.00" x2="1712.90" y2="1116.80" stroke="#000" stroke-width="2.6" stroke-linecap="round"/>
<line x1="1712.90" y1="1201.00" x2="1796.86" y2="1207.29" stroke="#000" stroke-width="2.6" stroke-linecap="round"/>
<line x1="1712.90" y1="1201.00" x2="1728.55" y2="1283.73" stroke="#000" stroke-width="2.6" stroke-linecap="round"/>
<line x1="1712.90" y1="1201.00" x2="1633.43" y2="1173.19" stroke="#000" stroke-width="2.6" stroke-linecap="round"/>
<text transform="translate(1748.80,1175.62) scale(1,1.04)" x="0" y="0" font-size="25.5" fill="#ffffff" text-anchor="middle" style="font-kerning:none" >44</text>
<text transform="translate(1750.80,1243.32) scale(1,1.04)" x="0" y="0" font-size="25.5" fill="#ffffff" text-anchor="middle" style="font-kerning:none" >35</text>
<text transform="translate(1675.90,1242.02) scale(1,1.04)" x="0" y="0" font-size="25.5" fill="#ffffff" text-anchor="middle" style="font-kerning:none" >56</text>
<text transform="translate(1679.10,1168.42) scale(1,1.04)" x="0" y="0" font-size="25.5" fill="#464c51" text-anchor="middle" style="font-kerning:none" >33</text>
<text transform="translate(1844.20,553.60) scale(1.018,1)" x="0" y="0" font-size="32" fill="#000">Intervention Effect</text>
<rect x="1848.4" y="570.1" width="46.5" height="46.5" fill="#d3d3d4" stroke="#111" stroke-width="2.2"/>
<text transform="translate(1912.00,603.30) scale(1.026,1)" x="0" y="0" font-size="26" fill="#000">Not Reversed</text>
<rect x="1848.4" y="621.4" width="46.5" height="46.5" fill="#d4e8e8" stroke="#111" stroke-width="2.2"/>
<text transform="translate(1912.00,654.60) scale(1.0,1)" x="0" y="0" font-size="26" fill="#000">Exercise Reversed</text>
<rect x="1848.4" y="672.8" width="46.5" height="46.5" fill="#a0cdcb" stroke="#555" stroke-width="2.2"/>
<text transform="translate(1912.00,705.20) scale(1.058,1)" x="0" y="0" font-size="26" fill="#000">Parabiosis Reversed</text>
<rect x="1848.4" y="723.2" width="46.5" height="46.5" fill="#76b4af" stroke="#111" stroke-width="2.2"/>
<text transform="translate(1912.00,755.80) scale(1.023,1)" x="0" y="0" font-size="26" fill="#000">Reversed by Both</text>
<text transform="translate(0.6,765.6) scale(1.12,1)" x="0" y="0" font-size="49.5" fill="#1a1a1a">c</text>
<text x="534.40" y="785.70" font-size="33.95" fill="#1a1a1a" text-anchor="middle" >Intervention Impact on Aging Differentially Expressed Genes</text>
<rect x="246.85" y="812.65" width="325.5" height="45.3" fill="#fff" stroke="#000" stroke-width="2.6"/>
<rect x="592.65" y="812.65" width="326.1" height="45.3" fill="#fff" stroke="#000" stroke-width="2.6"/>
<text x="413.25" y="844.60" font-size="26.3" fill="#1a1a1a" text-anchor="middle" >Parabiosis (Young Blood)</text>
<text x="751.80" y="844.60" font-size="26.2" fill="#1a1a1a" text-anchor="middle" >Exercise</text>
<rect x="922.8" y="861.9" width="44.7" height="215.4" fill="#fff" stroke="#000" stroke-width="2.6"/>
<rect x="922.3" y="1097.3" width="45.6" height="214.4" fill="#fff" stroke="#000" stroke-width="2.6"/>
<text transform="translate(936.2,974.9) rotate(90)" x="0" y="0" font-size="26" fill="#1a1a1a" text-anchor="middle">Age Increased</text>
<text transform="translate(935.8,1209.6) rotate(90)" x="0" y="0" font-size="26" fill="#1a1a1a" text-anchor="middle">Age Decreased</text>
<rect x="260.00" y="865.10" width="12.20" height="31.8" fill="#94c948"/>
<rect x="272.20" y="865.10" width="55.80" height="31.8" fill="#d9d9d9"/>
<rect x="328.00" y="865.10" width="10.40" height="31.8" fill="#e3a08e"/>
<rect x="260.00" y="900.40" width="51.00" height="31.8" fill="#94c948"/>
<rect x="311.00" y="900.40" width="124.00" height="31.8" fill="#d9d9d9"/>
<rect x="435.00" y="900.40" width="41.70" height="31.8" fill="#e3a08e"/>
<rect x="260.00" y="935.70" width="5.90" height="31.8" fill="#94c948"/>
<rect x="265.90" y="935.70" width="8.70" height="31.8" fill="#d9d9d9"/>
<rect x="274.60" y="935.70" width="3.60" height="31.8" fill="#e3a08e"/>
<rect x="260.00" y="971.00" width="17.30" height="31.8" fill="#94c948"/>
<rect x="277.30" y="971.00" width="47.20" height="31.8" fill="#d9d9d9"/>
<rect x="324.50" y="971.00" width="3.10" height="31.8" fill="#e3a08e"/>
<rect x="260.00" y="1006.70" width="22.30" height="31.8" fill="#94c948"/>
<rect x="282.30" y="1006.70" width="35.90" height="31.8" fill="#d9d9d9"/>
<rect x="318.20" y="1006.70" width="7.90" height="31.8" fill="#e3a08e"/>
<rect x="260.00" y="1042.00" width="25.00" height="31.8" fill="#94c948"/>
<rect x="285.00" y="1042.00" width="37.80" height="31.8" fill="#d9d9d9"/>
<rect x="322.80" y="1042.00" width="4.80" height="31.8" fill="#e3a08e"/>
<rect x="260.00" y="1099.50" width="4.30" height="31.8" fill="#94c948"/>
<rect x="264.30" y="1099.50" width="45.90" height="31.8" fill="#d9d9d9"/>
<rect x="310.20" y="1099.50" width="4.60" height="31.8" fill="#e3a08e"/>
<rect x="260.00" y="1135.40" width="53.00" height="31.8" fill="#94c948"/>
<rect x="313.00" y="1135.40" width="239.20" height="31.8" fill="#d9d9d9"/>
<rect x="552.20" y="1135.40" width="7.70" height="31.8" fill="#e3a08e"/>
<rect x="260.00" y="1171.50" width="1.70" height="31.8" fill="#94c948"/>
<rect x="261.70" y="1171.50" width="14.30" height="31.8" fill="#d9d9d9"/>
<rect x="276.00" y="1171.50" width="2.30" height="31.8" fill="#e3a08e"/>
<rect x="260.00" y="1206.50" width="5.00" height="31.8" fill="#94c948"/>
<rect x="265.00" y="1206.50" width="24.10" height="31.8" fill="#d9d9d9"/>
<rect x="289.10" y="1206.50" width="5.10" height="31.8" fill="#e3a08e"/>
<rect x="260.00" y="1241.90" width="3.90" height="31.8" fill="#94c948"/>
<rect x="263.90" y="1241.90" width="12.60" height="31.8" fill="#d9d9d9"/>
<rect x="276.50" y="1241.90" width="15.50" height="31.8" fill="#e3a08e"/>
<rect x="260.00" y="1277.10" width="10.30" height="31.8" fill="#94c948"/>
<rect x="270.30" y="1277.10" width="39.40" height="31.8" fill="#d9d9d9"/>
<rect x="309.70" y="1277.10" width="10.00" height="31.8" fill="#e3a08e"/>
<rect x="605.40" y="865.10" width="7.80" height="31.8" fill="#94c948"/>
<rect x="613.20" y="865.10" width="63.30" height="31.8" fill="#d9d9d9"/>
<rect x="676.50" y="865.10" width="7.90" height="31.8" fill="#e3a08e"/>
<rect x="605.40" y="900.40" width="8.40" height="31.8" fill="#94c948"/>
<rect x="613.80" y="900.40" width="159.20" height="31.8" fill="#d9d9d9"/>
<rect x="773.00" y="900.40" width="49.20" height="31.8" fill="#e3a08e"/>
<rect x="605.40" y="935.70" width="2.00" height="31.8" fill="#94c948"/>
<rect x="607.40" y="935.70" width="7.90" height="31.8" fill="#d9d9d9"/>
<rect x="615.30" y="935.70" width="8.50" height="31.8" fill="#e3a08e"/>
<rect x="605.40" y="971.00" width="7.20" height="31.8" fill="#94c948"/>
<rect x="612.60" y="971.00" width="44.20" height="31.8" fill="#d9d9d9"/>
<rect x="656.80" y="971.00" width="16.20" height="31.8" fill="#e3a08e"/>
<rect x="605.40" y="1006.70" width="29.00" height="31.8" fill="#94c948"/>
<rect x="634.40" y="1006.70" width="32.80" height="31.8" fill="#d9d9d9"/>
<rect x="667.20" y="1006.70" width="4.30" height="31.8" fill="#e3a08e"/>
<rect x="605.40" y="1042.00" width="7.20" height="31.8" fill="#94c948"/>
<rect x="612.60" y="1042.00" width="55.00" height="31.8" fill="#d9d9d9"/>
<rect x="667.60" y="1042.00" width="5.40" height="31.8" fill="#e3a08e"/>
<rect x="605.40" y="1099.50" width="2.30" height="31.8" fill="#94c948"/>
<rect x="607.70" y="1099.50" width="44.90" height="31.8" fill="#d9d9d9"/>
<rect x="652.60" y="1099.50" width="8.20" height="31.8" fill="#e3a08e"/>
<rect x="605.40" y="1135.40" width="12.70" height="31.8" fill="#94c948"/>
<rect x="618.10" y="1135.40" width="268.70" height="31.8" fill="#d9d9d9"/>
<rect x="886.80" y="1135.40" width="18.80" height="31.8" fill="#e3a08e"/>
<rect x="605.40" y="1171.50" width="1.20" height="31.8" fill="#94c948"/>
<rect x="606.60" y="1171.50" width="15.00" height="31.8" fill="#d9d9d9"/>
<rect x="621.60" y="1171.50" width="2.00" height="31.8" fill="#e3a08e"/>
<rect x="605.40" y="1206.50" width="0.70" height="31.8" fill="#94c948"/>
<rect x="606.10" y="1206.50" width="29.70" height="31.8" fill="#d9d9d9"/>
<rect x="635.80" y="1206.50" width="4.00" height="31.8" fill="#e3a08e"/>
<rect x="605.40" y="1241.90" width="0.50" height="31.8" fill="#94c948"/>
<rect x="605.90" y="1241.90" width="15.70" height="31.8" fill="#d9d9d9"/>
<rect x="621.60" y="1241.90" width="16.00" height="31.8" fill="#e3a08e"/>
<rect x="605.40" y="1277.10" width="1.20" height="31.8" fill="#94c948"/>
<rect x="606.60" y="1277.10" width="45.40" height="31.8" fill="#d9d9d9"/>
<rect x="652.00" y="1277.10" width="12.80" height="31.8" fill="#e3a08e"/>
<line x1="245" y1="860.2" x2="245" y2="1079.3" stroke="#000" stroke-width="3"/>
<line x1="245" y1="1095.5" x2="245" y2="1315.3" stroke="#000" stroke-width="3"/>
<line x1="243.6" y1="1313.9" x2="574.3" y2="1313.9" stroke="#000" stroke-width="2.9"/>
<line x1="590.6" y1="1313.9" x2="920" y2="1313.9" stroke="#000" stroke-width="2.9"/>
<line x1="237.3" y1="881" x2="244" y2="881" stroke="#333" stroke-width="2.6"/>
<line x1="237.3" y1="916.3" x2="244" y2="916.3" stroke="#333" stroke-width="2.6"/>
<line x1="237.3" y1="951.6" x2="244" y2="951.6" stroke="#333" stroke-width="2.6"/>
<line x1="237.3" y1="986.9" x2="244" y2="986.9" stroke="#333" stroke-width="2.6"/>
<line x1="237.3" y1="1022.6" x2="244" y2="1022.6" stroke="#333" stroke-width="2.6"/>
<line x1="237.3" y1="1057.9" x2="244" y2="1057.9" stroke="#333" stroke-width="2.6"/>
<line x1="237.3" y1="1115.4" x2="244" y2="1115.4" stroke="#333" stroke-width="2.6"/>
<line x1="237.3" y1="1151.3" x2="244" y2="1151.3" stroke="#333" stroke-width="2.6"/>
<line x1="237.3" y1="1187.4" x2="244" y2="1187.4" stroke="#333" stroke-width="2.6"/>
<line x1="237.3" y1="1222.4" x2="244" y2="1222.4" stroke="#333" stroke-width="2.6"/>
<line x1="237.3" y1="1257.8" x2="244" y2="1257.8" stroke="#333" stroke-width="2.6"/>
<line x1="237.3" y1="1293" x2="244" y2="1293" stroke="#333" stroke-width="2.6"/>
<text x="231.00" y="890.50" font-size="25.9" fill="#4d4d4d" text-anchor="end" >Oligodendrocyte</text>
<text x="231.00" y="925.80" font-size="25.9" fill="#4d4d4d" text-anchor="end" >Microglia</text>
<text x="231.00" y="961.10" font-size="25.9" fill="#4d4d4d" text-anchor="end" >Endothelial</text>
<text x="231.00" y="996.40" font-size="25.9" fill="#4d4d4d" text-anchor="end" >Astrocyte-qNSC</text>
<text x="231.00" y="1032.10" font-size="25.9" fill="#4d4d4d" text-anchor="end" >aNSC-NPC</text>
<text x="231.00" y="1067.40" font-size="25.9" fill="#4d4d4d" text-anchor="end" >Neuroblast</text>
<text x="231.00" y="1124.90" font-size="25.9" fill="#4d4d4d" text-anchor="end" >Oligodendrocyte</text>
<text x="231.00" y="1160.80" font-size="25.9" fill="#4d4d4d" text-anchor="end" >Microglia</text>
<text x="231.00" y="1196.90" font-size="25.9" fill="#4d4d4d" text-anchor="end" >Endothelial</text>
<text x="231.00" y="1231.90" font-size="25.9" fill="#4d4d4d" text-anchor="end" >Astrocyte-qNSC</text>
<text x="231.00" y="1267.30" font-size="25.9" fill="#4d4d4d" text-anchor="end" >aNSC-NPC</text>
<text x="231.00" y="1302.50" font-size="25.9" fill="#4d4d4d" text-anchor="end" >Neuroblast</text>
<line x1="259.90" y1="1315" x2="259.90" y2="1322.5" stroke="#333" stroke-width="2.6"/>
<text transform="translate(259.90,1346.80) scale(1,1.04)" x="0" y="0" font-size="24.5" fill="#4d4d4d" text-anchor="middle" style="font-kerning:none" >0</text>
<line x1="361.77" y1="1315" x2="361.77" y2="1322.5" stroke="#333" stroke-width="2.6"/>
<text transform="translate(361.77,1346.80) scale(1,1.04)" x="0" y="0" font-size="24.5" fill="#4d4d4d" text-anchor="middle" style="font-kerning:none" >200</text>
<line x1="463.64" y1="1315" x2="463.64" y2="1322.5" stroke="#333" stroke-width="2.6"/>
<text transform="translate(463.64,1346.80) scale(1,1.04)" x="0" y="0" font-size="24.5" fill="#4d4d4d" text-anchor="middle" style="font-kerning:none" >400</text>
<line x1="565.51" y1="1315" x2="565.51" y2="1322.5" stroke="#333" stroke-width="2.6"/>
<text transform="translate(565.51,1346.80) scale(1,1.04)" x="0" y="0" font-size="24.5" fill="#4d4d4d" text-anchor="middle" style="font-kerning:none" >600</text>
<line x1="605.40" y1="1315" x2="605.40" y2="1322.5" stroke="#333" stroke-width="2.6"/>
<text transform="translate(605.40,1346.80) scale(1,1.04)" x="0" y="0" font-size="24.5" fill="#4d4d4d" text-anchor="middle" style="font-kerning:none" >0</text>
<line x1="707.27" y1="1315" x2="707.27" y2="1322.5" stroke="#333" stroke-width="2.6"/>
<text transform="translate(707.27,1346.80) scale(1,1.04)" x="0" y="0" font-size="24.5" fill="#4d4d4d" text-anchor="middle" style="font-kerning:none" >200</text>
<line x1="809.14" y1="1315" x2="809.14" y2="1322.5" stroke="#333" stroke-width="2.6"/>
<text transform="translate(809.14,1346.80) scale(1,1.04)" x="0" y="0" font-size="24.5" fill="#4d4d4d" text-anchor="middle" style="font-kerning:none" >400</text>
<line x1="911.01" y1="1315" x2="911.01" y2="1322.5" stroke="#333" stroke-width="2.6"/>
<text transform="translate(911.01,1346.80) scale(1,1.04)" x="0" y="0" font-size="24.5" fill="#4d4d4d" text-anchor="middle" style="font-kerning:none" >600</text>
<text x="597.30" y="1383.00" font-size="24.5" fill="#000" text-anchor="middle" >Genes</text>
<text x="247.80" y="1435.50" font-size="24.6" fill="#000" text-anchor="start" >Age-associated</text>
<rect x="425" y="1408" width="35.2" height="35" fill="#e6a3a8"/>
<text x="487.00" y="1435.50" font-size="24.7" fill="#000" text-anchor="start" >&lt;5% Change</text>
<rect x="634.3" y="1408" width="34.8" height="35" fill="#dadada"/>
<text x="701.60" y="1435.50" font-size="24.7" fill="#000" text-anchor="start" >Reversed</text>
<rect x="811.3" y="1408" width="34.9" height="35" fill="#93c94d"/>
</svg>
</body></html>
